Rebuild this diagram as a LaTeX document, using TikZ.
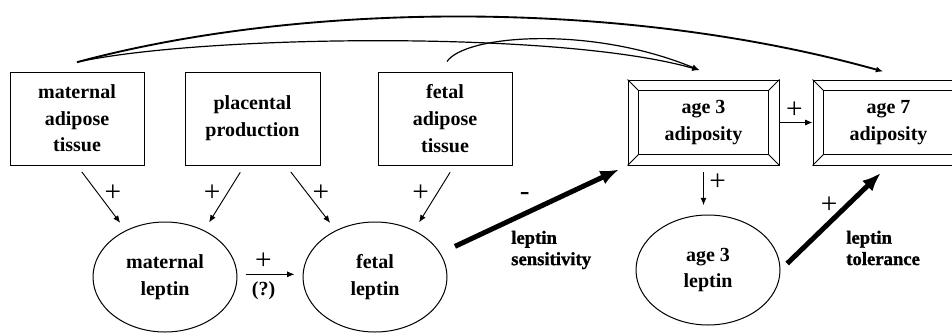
\documentclass[tikz,border=0pt]{standalone}
\usepackage{fontspec}
\setmainfont{Liberation Serif}
\newfontfamily\heavyserif{Liberation Serif}[BoldFeatures={FakeBold=1.2}]
\usetikzlibrary{arrows.meta,shapes.geometric}

% frame with bevelled corners drawn inside a node
\def\bevw{8.25pt}
\newcommand\bevelframe[1]{%
  \draw[line width=0.75pt] ([shift={(\bevw,-\bevw)}]#1.north west) rectangle ([shift={(-\bevw,\bevw)}]#1.south east);
  \draw[line width=0.6pt] (#1.north west) -- ++(\bevw,-\bevw);
  \draw[line width=0.6pt] (#1.north east) -- ++(-\bevw,-\bevw);
  \draw[line width=0.6pt] (#1.south west) -- ++(\bevw,\bevw);
  \draw[line width=0.6pt] (#1.south east) -- ++(-\bevw,\bevw);
}

\tikzset{
  boxfont/.style={font=\fontsize{15}{20}\selectfont\bfseries},
  factor/.style={draw, line width=0.75pt, minimum width=100.5pt, minimum height=69.75pt, inner sep=0pt, align=center, boxfont},
  bevelled/.style={draw, line width=0.75pt, minimum width=113.25pt, minimum height=63.75pt, inner sep=0pt, align=center, boxfont},
  hormone/.style={draw, ellipse, line width=0.75pt, minimum width=108pt, minimum height=82.5pt, inner sep=0pt, align=center, boxfont},
  link/.style={-{Latex[length=5.5pt,width=4.5pt]}, line width=0.7pt},
  heavy/.style={-{Latex[length=14pt,width=11pt]}, line width=3.75pt},
  sign/.style={font=\fontsize{22}{22}\selectfont, inner sep=0pt},
  note/.style={anchor=west, align=left, inner sep=0pt, font=\fontsize{14}{16}\heavyserif\bfseries}
}

\begin{document}
\begin{tikzpicture}[x=0.75pt, y=-0.75pt]
  \useasboundingbox (0,0) rectangle (952,332);

  %%%%% sources %%%%%
  \node[factor] (madip) at (77,118.5) {maternal\\adipose\\tissue};
  \node[factor, minimum width=101.25pt] (place) at (252.5,118.5) {placental\\production};
  \node[factor] (fadip) at (445,118.5) {fetal\\adipose\\tissue};

  %%%%% outcomes %%%%%
  \node[bevelled] (a3adip) at (703.5,122.5) {age 3\\adiposity};
  \node[bevelled] (a7adip) at (888.5,122.5) {age 7\\adiposity};
  \bevelframe{a3adip}
  \bevelframe{a7adip}

  \node[hormone] (mlep) at (165,277) {maternal\\leptin};
  \node[hormone] (flep) at (375,277) {fetal\\leptin};
  \node[hormone] (a3lep) at (708,270) {age 3\\leptin};

  %%%%% thin links %%%%%
  \draw[link, shorten <=6pt, shorten >=7pt] (madip.south) -- (mlep.130)
    node[sign, pos=.42, right=5pt] {+};
  \draw[link, shorten <=6pt, shorten >=7pt] ([xshift=-6pt]place.south) -- (mlep.50)
    node[sign, pos=.42, left=5pt] {+};
  \draw[link, shorten <=6pt, shorten >=7pt] ([xshift=25pt]place.south) -- (flep.130)
    node[sign, pos=.42, right=4pt] {+};
  \draw[link, shorten <=6pt, shorten >=7pt] ([xshift=7pt]fadip.south) -- (flep.50)
    node[sign, pos=.42, left=6pt] {+};

  \draw[link, shorten <=6pt, shorten >=6pt] ([yshift=2pt]mlep.east) -- ([yshift=2pt]flep.east -| flep.west)
    node[sign, pos=.4, above=3pt] {+}
    node[pos=.4, below=2pt, boxfont] {(?)};

  \draw[link, shorten <=5pt, shorten >=7pt] (a3adip.south) -- (a3adip.south |- a3lep.north)
    node[sign, pos=.35, right=4pt] {+};
  \draw[link] (a3adip.east) -- (a7adip.west)
    node[sign, pos=.45, above=3pt] {+};

  %%%%% heavy links %%%%%
  \draw[heavy, shorten <=12pt, shorten >=7pt] (flep.20) -- (a3adip.south west)
    node[sign, pos=.45, above=8pt] {-};
  \draw[heavy, shorten <=7pt, shorten >=8pt] (a3lep.east) -- (a7adip.south)
    node[sign, pos=.45, above=5pt] {+};

  \node[note] (sens) at (511,250) {leptin\\sensitivity};
  \node[note] (tol) at (846,248) {leptin\\tolerance};

  %%%%% curved links over the top %%%%%
  \draw[link, line width=1.4pt] ([yshift=7pt]madip.north) .. controls (300,2) and (620,-2) .. ([shift={(-4pt,6pt)}]a7adip.north);
  \draw[link, line width=0.9pt] ([yshift=7pt]madip.north) .. controls (200,35) and (560,30) .. ([shift={(-3pt,7pt)}]a3adip.north);
  \draw[link, line width=0.9pt] ([shift={(1.5pt,7.5pt)}]fadip.north) .. controls (465,35) and (590,25) .. ([shift={(-3pt,7pt)}]a3adip.north);
\end{tikzpicture}
\end{document}
